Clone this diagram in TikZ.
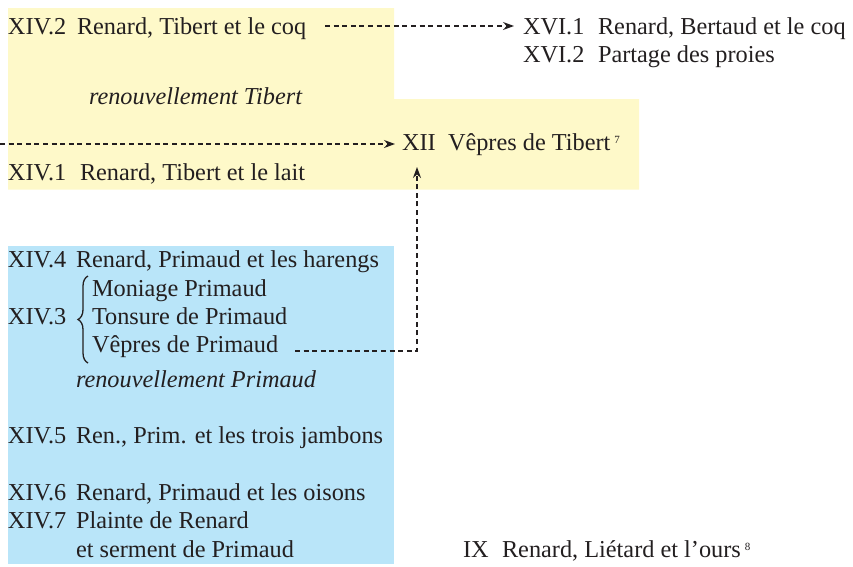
\documentclass[tikz,border=0pt]{standalone}
\usepackage{fontspec}
\newfontfamily\timesfont{Liberation Serif}
\usetikzlibrary{arrows.meta,decorations.pathreplacing}
\definecolor{pyellow}{HTML}{FEF9C9}
\definecolor{pblue}{HTML}{B9E5F9}
\definecolor{ink}{HTML}{231F20}
\begin{document}
\begin{tikzpicture}[x=1pt,y=-1pt,
  txt/.style={anchor=base west,inner sep=0pt,outer sep=0pt,text=ink,font=\timesfont\fontsize{24.3}{28}\selectfont},
  itxt/.style={txt,font=\timesfont\fontsize{24.3}{28}\selectfont\itshape},
  dasharrow/.style={draw=ink,line width=1.1pt,dash pattern=on 5pt off 3.6pt,-{Stealth[length=11pt,width=8pt]}},
  bracestyle/.style={draw=ink,line width=1.3pt,decorate,decoration={brace,amplitude=10pt}}]
\useasboundingbox (0,0) rectangle (853,566);
% backgrounds
\fill[pyellow] (8,8) -- (394,8) -- (394,99) -- (639,99) -- (639,189.5) -- (8,189.5) -- cycle;
\fill[pblue] (8,246) rectangle (394,564);
% yellow block
\node[txt] (l2) at (8,34) {XIV.2};
\node[txt] (t2) at (77,34) {Renard, Tibert et le coq};
\node[itxt] (rt) at (89,104) {renouvellement Tibert};
\node[txt] (l1) at (8,180) {XIV.1};
\node[txt] (t1) at (80,180) {Renard, Tibert et le lait};
\node[txt] (xii) at (402,150) {XII};
\node[txt] (txii) at (448,150) {Vêpres de Tibert\,\raisebox{7pt}{\fontsize{11}{12}\selectfont 7}};
% XVI
\node[txt] (xvi1) at (523,34) {XVI.1};
\node[txt] (txvi1) at (598,34) {Renard, Bertaud et le coq};
\node[txt] (xvi2) at (523,62) {XVI.2};
\node[txt] (txvi2) at (598,62) {Partage des proies};
% blue block
\node[txt] (l4) at (8,267) {XIV.4};
\node[txt] (t4) at (76,267) {Renard, Primaud et les harengs};
\node[txt] (l3) at (8,324) {XIV.3};
\node[txt] (t3a) at (92,296) {Moniage Primaud};
\node[txt] (t3b) at (92,324) {Tonsure de Primaud};
\node[txt] (t3c) at (92,352) {Vêpres de Primaud};
\node[itxt] (rp) at (76,387) {renouvellement Primaud};
\node[txt] (l5) at (8,443) {XIV.5};
\node[txt] (t5) at (76,443) {Ren., Prim. et les trois jambons};
\node[txt] (l6) at (8,500) {XIV.6};
\node[txt] (t6) at (76,500) {Renard, Primaud et les oisons};
\node[txt] (l7) at (8,528) {XIV.7};
\node[txt] (t7a) at (76,528) {Plainte de Renard};
\node[txt] (t7b) at (76,557) {et serment de Primaud};
% IX
\node[txt] (ix) at (463,557) {IX};
\node[txt] (tix) at (502,557) {Renard, Liétard et l’ours\,\raisebox{7pt}{\fontsize{11}{12}\selectfont 8}};
% brace
\draw[bracestyle] (88,363) -- (88,276);
% connectors
\coordinate (s1) at (325,26);
\coordinate (e1) at (514,26);
\coordinate (s2) at (0,144);
\coordinate (e2) at (395,144);
\coordinate (s3) at (295,351);
\coordinate (e3) at (417,167);
\draw[dasharrow] (s1) -- (e1);
\draw[dasharrow] (s2) -- (e2);
\draw[dasharrow] (s3) -| (e3);
\end{tikzpicture}
\end{document}
